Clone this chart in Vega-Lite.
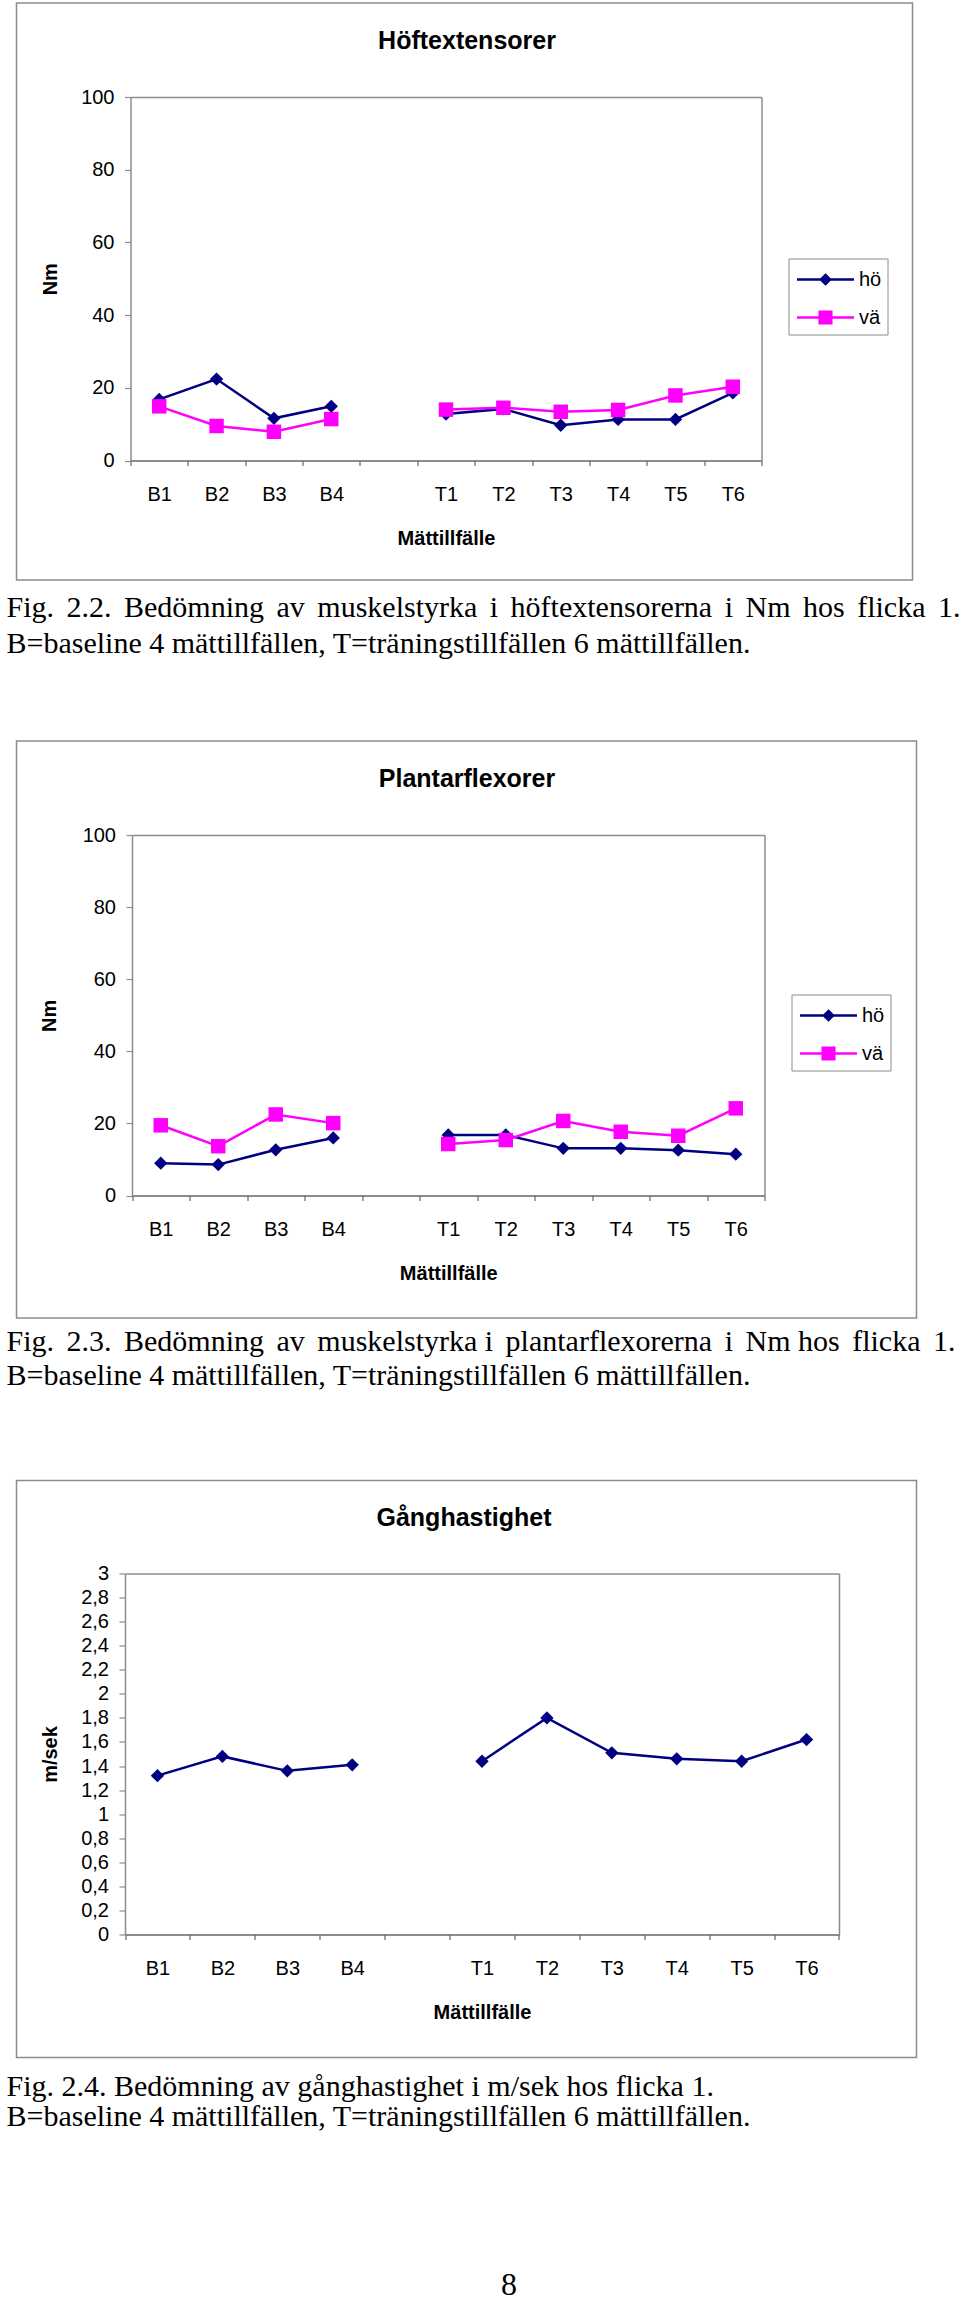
{
  "$schema": "https://vega.github.io/schema/vega-lite/v6.json",
  "background": "white",
  "padding": {"left": 5.5, "top": 2, "right": 0, "bottom": 0},
  "datasets": {
    "hoft": [
      {"m": "B1", "phase": "B", "serie": "hö", "v": 16.8},
      {"m": "B2", "phase": "B", "serie": "hö", "v": 22.4},
      {"m": "B3", "phase": "B", "serie": "hö", "v": 11.6},
      {"m": "B4", "phase": "B", "serie": "hö", "v": 14.9},
      {"m": "T1", "phase": "T", "serie": "hö", "v": 12.8},
      {"m": "T2", "phase": "T", "serie": "hö", "v": 14.2},
      {"m": "T3", "phase": "T", "serie": "hö", "v": 9.7},
      {"m": "T4", "phase": "T", "serie": "hö", "v": 11.3},
      {"m": "T5", "phase": "T", "serie": "hö", "v": 11.3},
      {"m": "T6", "phase": "T", "serie": "hö", "v": 18.6},
      {"m": "B1", "phase": "B", "serie": "vä", "v": 14.9},
      {"m": "B2", "phase": "B", "serie": "vä", "v": 9.5},
      {"m": "B3", "phase": "B", "serie": "vä", "v": 7.9},
      {"m": "B4", "phase": "B", "serie": "vä", "v": 11.4},
      {"m": "T1", "phase": "T", "serie": "vä", "v": 14.0},
      {"m": "T2", "phase": "T", "serie": "vä", "v": 14.5},
      {"m": "T3", "phase": "T", "serie": "vä", "v": 13.4},
      {"m": "T4", "phase": "T", "serie": "vä", "v": 13.9},
      {"m": "T5", "phase": "T", "serie": "vä", "v": 17.9},
      {"m": "T6", "phase": "T", "serie": "vä", "v": 20.3}
    ],
    "plantar": [
      {"m": "B1", "phase": "B", "serie": "hö", "v": 9.0},
      {"m": "B2", "phase": "B", "serie": "hö", "v": 8.6},
      {"m": "B3", "phase": "B", "serie": "hö", "v": 12.7},
      {"m": "B4", "phase": "B", "serie": "hö", "v": 16.0},
      {"m": "T1", "phase": "T", "serie": "hö", "v": 16.8},
      {"m": "T2", "phase": "T", "serie": "hö", "v": 16.8},
      {"m": "T3", "phase": "T", "serie": "hö", "v": 13.1},
      {"m": "T4", "phase": "T", "serie": "hö", "v": 13.1},
      {"m": "T5", "phase": "T", "serie": "hö", "v": 12.6},
      {"m": "T6", "phase": "T", "serie": "hö", "v": 11.5},
      {"m": "B1", "phase": "B", "serie": "vä", "v": 19.5},
      {"m": "B2", "phase": "B", "serie": "vä", "v": 13.7},
      {"m": "B3", "phase": "B", "serie": "vä", "v": 22.5},
      {"m": "B4", "phase": "B", "serie": "vä", "v": 20.1},
      {"m": "T1", "phase": "T", "serie": "vä", "v": 14.3},
      {"m": "T2", "phase": "T", "serie": "vä", "v": 15.4},
      {"m": "T3", "phase": "T", "serie": "vä", "v": 20.7},
      {"m": "T4", "phase": "T", "serie": "vä", "v": 17.7},
      {"m": "T5", "phase": "T", "serie": "vä", "v": 16.6},
      {"m": "T6", "phase": "T", "serie": "vä", "v": 24.2}
    ],
    "gang": [
      {"m": "B1", "phase": "B", "serie": "hö", "v": 1.32},
      {"m": "B2", "phase": "B", "serie": "hö", "v": 1.48},
      {"m": "B3", "phase": "B", "serie": "hö", "v": 1.36},
      {"m": "B4", "phase": "B", "serie": "hö", "v": 1.41},
      {"m": "T1", "phase": "T", "serie": "hö", "v": 1.44},
      {"m": "T2", "phase": "T", "serie": "hö", "v": 1.80},
      {"m": "T3", "phase": "T", "serie": "hö", "v": 1.51},
      {"m": "T4", "phase": "T", "serie": "hö", "v": 1.46},
      {"m": "T5", "phase": "T", "serie": "hö", "v": 1.44},
      {"m": "T6", "phase": "T", "serie": "hö", "v": 1.62}
    ]
  },
  "spacing": 80,
  "vconcat": [
    {
      "width": 896, "height": 577,
      "data": {"name": "hoft"},
      "title": {"text": ["Fig. \u20062.2. \u2006Bedömning \u2006av \u2006muskelstyrka \u2006i \u2006höftextensorerna \u2006i \u2006Nm \u2006hos \u2006flicka \u20061.", "B=baseline 4 mättillfällen, T=träningstillfällen 6 mättillfällen."], "orient": "bottom", "anchor": "start", "offset": 13, "lineHeight": 36, "dx": -10},
      "layer": [
        {
          "mark": {"type": "line", "strokeWidth": 2.5},
          "encoding": {
            "x": {"field": "m", "type": "nominal", "scale": {"type": "band", "domain": ["B1","B2","B3","B4","","T1","T2","T3","T4","T5","T6"], "range": [114, 745], "paddingInner": 0, "paddingOuter": 0},
                  "axis": {"orient": "bottom", "offset": -119.5, "labelAngle": 0, "tickBand": "extent", "tickSize": 5, "labelPadding": 19, "domainColor": "#666666", "tickColor": "#666666", "labelOverlap": false, "title": "Mättillfälle", "titleY": 84, "titleBaseline": "alphabetic"}},
            "y": {"field": "v", "type": "quantitative", "scale": {"domain": [0, 100], "range": [457.5, 94], "nice": false},
                  "axis": {"orient": "left", "offset": -114, "values": [0, 20, 40, 60, 80, 100], "tickSize": 6, "labelPadding": 10.5, "domainColor": "#8c8c8c", "tickColor": "#8c8c8c", "title": "Nm", "titleX": -80, "titleBaseline": "middle"}},
            "color": {"field": "serie", "type": "nominal", "scale": {"domain": ["hö", "vä"], "range": ["#000080", "#ff00ff"]}, "legend": null},
            "detail": {"field": "phase"}
          }
        },
        {
          "transform": [{"filter": "datum.serie == 'hö'"}],
          "mark": {"type": "point", "shape": "diamond", "filled": true, "opacity": 1, "size": 178},
          "encoding": {
            "x": {"field": "m", "type": "nominal", "scale": {"type": "band", "domain": ["B1","B2","B3","B4","","T1","T2","T3","T4","T5","T6"], "range": [114, 745], "paddingInner": 0, "paddingOuter": 0},
                  "axis": {"orient": "top", "offset": -94, "labels": false, "ticks": false, "domainColor": "#8c8c8c", "title": "Höftextensorer", "titleFontSize": 25, "titleX": 450, "titleY": -48.5, "titleBaseline": "alphabetic", "titleAlign": "center"}},
            "y": {"field": "v", "type": "quantitative", "scale": {"domain": [0, 100], "range": [457.5, 94], "nice": false},
                  "axis": {"orient": "right", "offset": -151, "labels": false, "ticks": false, "domainColor": "#8c8c8c", "title": null}},
            "color": {"field": "serie", "type": "nominal", "scale": {"domain": ["hö", "vä"], "range": ["#000080", "#ff00ff"]}, "legend": null}
          }
        },
        {
          "transform": [{"filter": "datum.serie == 'vä'"}],
          "mark": {"type": "point", "shape": "square", "filled": true, "opacity": 1, "size": 210},
          "encoding": {
            "x": {"field": "m", "type": "nominal", "axis": null},
            "y": {"field": "v", "type": "quantitative", "axis": null},
            "color": {"field": "serie", "type": "nominal", "scale": {"domain": ["hö", "vä"], "range": ["#000080", "#ff00ff"]}, "legend": null}
          }
        },
        {
          "mark": {"type": "point", "opacity": 0, "size": 729, "strokeWidth": 2.5},
          "encoding": {
            "x": {"field": "m", "type": "nominal", "axis": null},
            "y": {"field": "v", "type": "quantitative", "axis": null},
            "fill": {"field": "serie", "type": "nominal", "scale": {"domain": ["hö", "vä"], "range": ["#000080", "#ff00ff"]},
                     "legend": {"title": null, "orient": "none", "legendX": 772, "legendY": 255.5}},
            "stroke": {"field": "serie", "type": "nominal", "scale": {"domain": ["hö", "vä"], "range": ["#000080", "#ff00ff"]},
                     "legend": {"title": null, "orient": "none", "legendX": 772, "legendY": 255.5}},
            "shape": {"field": "serie", "type": "nominal", "scale": {"domain": ["hö", "vä"], "range": ["M-2.11,0H2.11M0,-0.34L0.34,0L0,0.34L-0.34,0Z", "M-2.11,0H2.11M-0.43,-0.43H0.43V0.43H-0.43Z"]},
                     "legend": {"title": null, "orient": "none", "legendX": 772, "legendY": 255.5}}
          }
        }
      ],
      "resolve": {"axis": {"x": "independent", "y": "independent"}, "scale": {"shape": "independent", "fill": "independent", "stroke": "independent"}}
    },
    {
      "spacing": 87.5,
      "vconcat": [
        {
          "width": 900, "height": 577,
          "data": {"name": "plantar"},
          "title": {"text": ["Fig. \u20062.3. \u2006Bedömning \u2006av \u2006muskelstyrka i \u2006plantarflexorerna \u2006i \u2006Nm hos \u2006flicka \u20061.", "B=baseline 4 mättillfällen, T=träningstillfällen 6 mättillfällen."], "orient": "bottom", "anchor": "start", "offset": 9, "lineHeight": 33.5, "dx": -10},
          "layer": [
            {
              "mark": {"type": "line", "strokeWidth": 2.5},
              "encoding": {
                "x": {"field": "m", "type": "nominal", "scale": {"type": "band", "domain": ["B1","B2","B3","B4","","T1","T2","T3","T4","T5","T6"], "range": [115.5, 748], "paddingInner": 0, "paddingOuter": 0},
                      "axis": {"orient": "bottom", "offset": -122.4, "labelAngle": 0, "tickBand": "extent", "tickSize": 5, "labelPadding": 19, "domainColor": "#666666", "tickColor": "#666666", "labelOverlap": false, "title": "Mättillfälle", "titleY": 84, "titleBaseline": "alphabetic"}},
                "y": {"field": "v", "type": "quantitative", "scale": {"domain": [0, 100], "range": [454.6, 94], "nice": false},
                      "axis": {"orient": "left", "offset": -115.5, "values": [0, 20, 40, 60, 80, 100], "tickSize": 6, "labelPadding": 10.5, "domainColor": "#8c8c8c", "tickColor": "#8c8c8c", "title": "Nm", "titleX": -83, "titleBaseline": "middle"}},
                "color": {"field": "serie", "type": "nominal", "scale": {"domain": ["hö", "vä"], "range": ["#000080", "#ff00ff"]}, "legend": null},
                "detail": {"field": "phase"}
              }
            },
            {
              "transform": [{"filter": "datum.serie == 'hö'"}],
              "mark": {"type": "point", "shape": "diamond", "filled": true, "opacity": 1, "size": 178},
              "encoding": {
                "x": {"field": "m", "type": "nominal", "scale": {"type": "band", "domain": ["B1","B2","B3","B4","","T1","T2","T3","T4","T5","T6"], "range": [115.5, 748], "paddingInner": 0, "paddingOuter": 0},
                      "axis": {"orient": "top", "offset": -94, "labels": false, "ticks": false, "domainColor": "#8c8c8c", "title": "Plantarflexorer", "titleFontSize": 25, "titleX": 450, "titleY": -49, "titleBaseline": "alphabetic", "titleAlign": "center"}},
                "y": {"field": "v", "type": "quantitative", "scale": {"domain": [0, 100], "range": [454.6, 94], "nice": false},
                      "axis": {"orient": "right", "offset": -152, "labels": false, "ticks": false, "domainColor": "#8c8c8c", "title": null}},
                "color": {"field": "serie", "type": "nominal", "scale": {"domain": ["hö", "vä"], "range": ["#000080", "#ff00ff"]}, "legend": null}
              }
            },
            {
              "transform": [{"filter": "datum.serie == 'vä'"}],
              "mark": {"type": "point", "shape": "square", "filled": true, "opacity": 1, "size": 210},
              "encoding": {
                "x": {"field": "m", "type": "nominal", "axis": null},
                "y": {"field": "v", "type": "quantitative", "axis": null},
                "color": {"field": "serie", "type": "nominal", "scale": {"domain": ["hö", "vä"], "range": ["#000080", "#ff00ff"]}, "legend": null}
              }
            },
            {
              "mark": {"type": "point", "opacity": 0, "size": 729, "strokeWidth": 2.5},
              "encoding": {
                "x": {"field": "m", "type": "nominal", "axis": null},
                "y": {"field": "v", "type": "quantitative", "axis": null},
                "fill": {"field": "serie", "type": "nominal", "scale": {"domain": ["hö", "vä"], "range": ["#000080", "#ff00ff"]},
                         "legend": {"title": null, "orient": "none", "legendX": 775, "legendY": 253.5}},
                "stroke": {"field": "serie", "type": "nominal", "scale": {"domain": ["hö", "vä"], "range": ["#000080", "#ff00ff"]},
                         "legend": {"title": null, "orient": "none", "legendX": 775, "legendY": 253.5}},
                "shape": {"field": "serie", "type": "nominal", "scale": {"domain": ["hö", "vä"], "range": ["M-2.11,0H2.11M0,-0.34L0.34,0L0,0.34L-0.34,0Z", "M-2.11,0H2.11M-0.43,-0.43H0.43V0.43H-0.43Z"]},
                         "legend": {"title": null, "orient": "none", "legendX": 775, "legendY": 253.5}}
              }
            }
          ],
          "resolve": {"axis": {"x": "independent", "y": "independent"}, "scale": {"shape": "independent", "fill": "independent", "stroke": "independent"}}
        },
        {
          "width": 900, "height": 577,
          "data": {"name": "gang"},
          "title": {"text": ["Fig. 2.4. Bedömning av gånghastighet i m/sek hos flicka 1.", "B=baseline 4 mättillfällen, T=träningstillfällen 6 mättillfällen."], "orient": "bottom", "anchor": "start", "offset": 14, "lineHeight": 30, "dx": -10},
          "layer": [
            {
              "mark": {"type": "line", "strokeWidth": 2.5},
              "encoding": {
                "x": {"field": "m", "type": "nominal", "scale": {"type": "band", "domain": ["B1","B2","B3","B4","","T1","T2","T3","T4","T5","T6"], "range": [108.5, 822.5], "paddingInner": 0, "paddingOuter": 0},
                      "axis": {"orient": "bottom", "offset": -123, "labelAngle": 0, "tickBand": "extent", "tickSize": 5, "labelPadding": 19, "domainColor": "#666666", "tickColor": "#666666", "labelOverlap": false, "title": "Mättillfälle", "titleY": 83.5, "titleBaseline": "alphabetic"}},
                "y": {"field": "v", "type": "quantitative", "scale": {"domain": [0, 3], "range": [454, 93], "nice": false},
                      "axis": {"orient": "left", "offset": -108.5, "values": [0, 0.2, 0.4, 0.6, 0.8, 1, 1.2, 1.4, 1.6, 1.8, 2, 2.2, 2.4, 2.6, 2.8, 3], "labelExpr": "replace(format(datum.value, '.1~f'), '.', ',')", "labelOverlap": false, "tickSize": 6, "labelPadding": 10.5, "domainColor": "#8c8c8c", "tickColor": "#8c8c8c", "title": "m/sek", "titleX": -75, "titleBaseline": "middle"}},
                "color": {"field": "serie", "type": "nominal", "scale": {"domain": ["hö", "vä"], "range": ["#000080", "#ff00ff"]}, "legend": null},
                "detail": {"field": "phase"}
              }
            },
            {
              "mark": {"type": "point", "shape": "diamond", "filled": true, "opacity": 1, "size": 178},
              "encoding": {
                "x": {"field": "m", "type": "nominal", "scale": {"type": "band", "domain": ["B1","B2","B3","B4","","T1","T2","T3","T4","T5","T6"], "range": [108.5, 822.5], "paddingInner": 0, "paddingOuter": 0},
                      "axis": {"orient": "top", "offset": -93, "labels": false, "ticks": false, "domainColor": "#8c8c8c", "title": "Gånghastighet", "titleFontSize": 25, "titleX": 447, "titleY": -48, "titleBaseline": "alphabetic", "titleAlign": "center"}},
                "y": {"field": "v", "type": "quantitative", "scale": {"domain": [0, 3], "range": [454, 93], "nice": false},
                      "axis": {"orient": "right", "offset": -77.5, "labels": false, "ticks": false, "domainColor": "#8c8c8c", "title": null}},
                "color": {"field": "serie", "type": "nominal", "scale": {"domain": ["hö", "vä"], "range": ["#000080", "#ff00ff"]}, "legend": null}
              }
            }
          ],
          "resolve": {"axis": {"x": "independent", "y": "independent"}}
        },
        {
          "width": 900, "height": 50,
          "view": {"stroke": null},
          "data": {"values": []},
          "mark": {"type": "text"},
          "encoding": {},
          "title": {"text": "8", "orient": "bottom", "anchor": "middle", "offset": 0, "dx": 42.5, "fontSize": 32}
        }
      ]
    }
  ],
  "config": {
    "view": {"stroke": "#8c8c8c", "strokeWidth": 1.5},
    "axis": {"grid": false, "labelFont": "Liberation Sans", "titleFont": "Liberation Sans", "labelColor": "black", "titleColor": "black", "labelFontSize": 20, "titleFontSize": 20, "titleFontWeight": "bold", "domainWidth": 1.5, "tickWidth": 1.2},
    "title": {"font": "Liberation Serif", "fontSize": 30, "fontWeight": "normal", "color": "black"},
    "legend": {"padding": 6, "strokeColor": "#8c8c8c", "fillColor": "white", "symbolSize": 729, "symbolStrokeWidth": 2.5, "symbolOffset": 16, "labelOffset": 18.5, "labelExpr": "datum.label + '\u00a0\u00a0'", "labelFont": "Liberation Sans", "labelFontSize": 20, "labelColor": "black", "rowPadding": 13, "symbolOpacity": 1, "labelLimit": 200}
  }
}
